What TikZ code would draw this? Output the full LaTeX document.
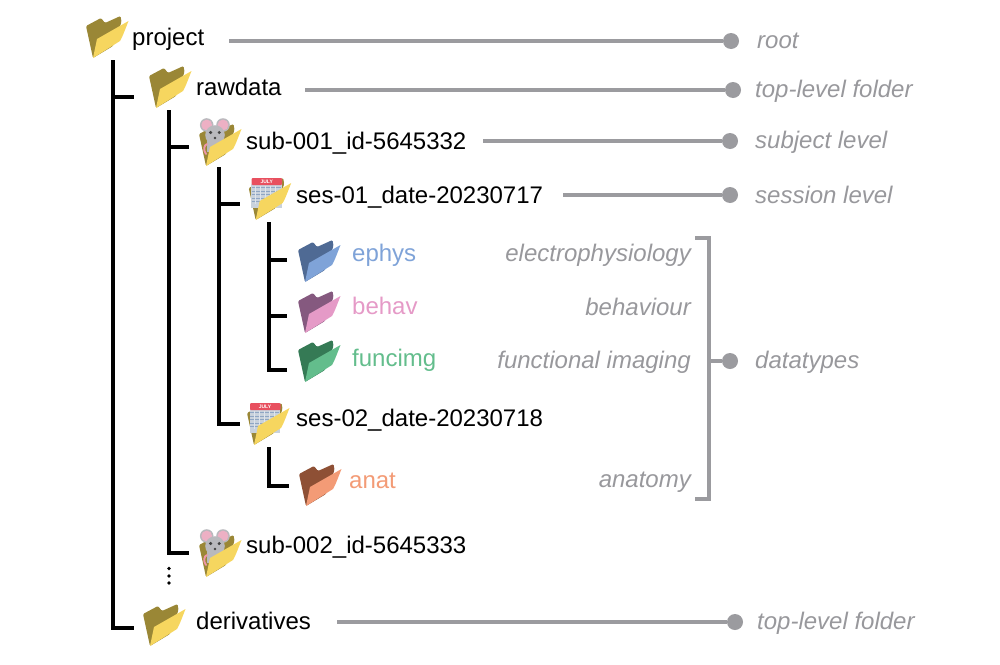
\documentclass[tikz,border=0pt]{standalone}
\usepackage{fontspec}
\setmainfont{Liberation Sans}
\definecolor{olv}{HTML}{9A8736}
\definecolor{yel}{HTML}{F6D65F}
\definecolor{bluD}{HTML}{4F6A94}
\definecolor{bluL}{HTML}{7FA3D8}
\definecolor{pnkD}{HTML}{85597F}
\definecolor{pnkL}{HTML}{E59AC7}
\definecolor{grnD}{HTML}{357A55}
\definecolor{grnL}{HTML}{63BD8C}
\definecolor{orgD}{HTML}{8E5035}
\definecolor{orgL}{HTML}{F39B76}
\definecolor{gry}{HTML}{9B9B9F}
\definecolor{glab}{HTML}{98989C}
\definecolor{mgray}{HTML}{B9B9BD}
\definecolor{mpink}{HTML}{EDB0C4}
\definecolor{calred}{HTML}{E8505F}
\definecolor{calbody}{HTML}{C9D2DC}
\definecolor{calgrid}{HTML}{8FA6C4}
\tikzset{
  x=1pt,y=-1pt,
  treeline/.style={draw=black,line width=3.6pt,line join=miter},
  guideline/.style={draw=gry,line width=3.8pt},
  guidedot/.style={circle,fill=gry,inner sep=0pt,minimum size=16pt},
  dirname/.style={anchor=base west,inner sep=0pt,font=\fontsize{24}{28}\selectfont},
  notel/.style={anchor=base west,inner sep=0pt,text=glab,font=\fontsize{24}{28}\selectfont\itshape},
  noter/.style={notel,anchor=base east},
  pics/fback/.style={code={
    \fill[#1,rounded corners=1.2pt] (0,0) -- (-7,-32) -- (8,-40) -- (12,-35) -- (27.5,-42) -- (28.5,-36) -- (20,-12) -- cycle;
  }},
  pics/ffront/.style={code={
    \fill[#1] (0,0) -- (4,-19) -- (35.5,-37) .. controls (32,-28) and (29,-20) .. (27,-17) -- cycle;
  }},
  pics/folder/.style 2 args={code={
    \pic {fback=#1}; \pic {ffront=#2};
  }},
  pics/mouse/.style={code={
    \pic {fback=olv};
    \fill[mgray] (0.7,-41) circle (6.8) (17,-41) circle (6.8);
    \fill[mpink] (0.7,-41) circle (5.4) (17,-41) circle (5.4);
    \fill[mgray] (9,-31) circle (9.8);
    \fill[mgray] (1,-28) rectangle (17,-14);
    \fill[black!75] (4.6,-33.5) circle (1.7) (13.2,-33.5) circle (1.7) (9,-28) circle (1.3);
    \draw[mpink!85!red,line width=1.9pt,line cap=round] (0,-12) .. controls (-3,-16) and (-2,-21) .. (1,-22);
    \pic {ffront=yel};
  }},
  pics/cal/.style={code={
    \pic {fback=olv};
    \fill[calbody] (-4.5,-36) rectangle (26,-12);
    \fill[calred,rounded corners=1pt] (-4,-42) rectangle (26.5,-35);
    \node[inner sep=0pt,text=white,font=\fontsize{5}{5}\selectfont\bfseries] at (11,-38.6) {JULY};
    \foreach \gy in {-32.5,-29,-25.5,-22,-18.5} \draw[calgrid,line width=.7pt] (-4,\gy) -- (25,\gy);
    \foreach \gx in {0,5,10,15,20} \draw[white!70!calgrid,line width=.5pt] (\gx,-34) -- (\gx,-16);
    \pic {ffront=yel};
  }}
}
\begin{document}
\begin{tikzpicture}
\useasboundingbox (0,0) rectangle (1000,664);
% folders
\pic at (93,58) {folder={olv}{yel}};
\pic at (156,108) {folder={olv}{yel}};
\pic at (206,166) {mouse};
\pic at (255.7,220) {cal};
\pic at (305,282) {folder={bluD}{bluL}};
\pic at (305,333) {folder={pnkD}{pnkL}};
\pic at (305,382) {folder={grnD}{grnL}};
\pic at (254,445) {cal};
\pic at (306,506) {folder={orgD}{orgL}};
\pic at (206,577) {mouse};
\pic at (150,646) {folder={olv}{yel}};
% names
\node[dirname] (project) at (132,45) {project};
\node[dirname] (rawdata) at (196,95) {rawdata};
\node[dirname] (sub1) at (246,149) {sub-001\_id-5645332};
\node[dirname] (ses1) at (296,203) {ses-01\_date-20230717};
\node[dirname,text=bluL] (ephys) at (352,261) {ephys};
\node[dirname,text=pnkL] (behav) at (352,314) {behav};
\node[dirname,text=grnL] (funcimg) at (352,366) {funcimg};
\node[dirname] (ses2) at (296,426) {ses-02\_date-20230718};
\node[dirname,text=orgL] (anat) at (349,488) {anat};
\node[dirname] (sub2) at (246,553) {sub-002\_id-5645333};
\node[dirname] (deriv) at (196,629) {derivatives};
% notes
\node[notel] (nroot) at (757,48) {root};
\node[notel] (ntop) at (755,97) {top-level folder};
\node[notel] (nsub) at (755,148) {subject level};
\node[notel] (nses) at (755,203) {session level};
\node[notel] (ndt) at (755,368) {datatypes};
\node[notel] (ntop2) at (757,629) {top-level folder};
\node[noter] (nephys) at (691,261) {electrophysiology};
\node[noter] (nbehav) at (691,315) {behaviour};
\node[noter] (nfunc) at (691,368) {functional imaging};
\node[noter] (nanat) at (691,487) {anatomy};
% tree
\coordinate (t1a) at (113,60); \coordinate (t1b) at (134,97); \coordinate (t1c) at (134,628);
\coordinate (t2a) at (169,110); \coordinate (t2b) at (189,147); \coordinate (t2c) at (189,553);
\coordinate (t3a) at (219,167); \coordinate (t3b) at (240,204); \coordinate (t3c) at (240,424);
\coordinate (t4a) at (269,222); \coordinate (t4b) at (287,260); \coordinate (t4c) at (287,316); \coordinate (t4d) at (287,370);
\coordinate (t5a) at (269,447); \coordinate (t5b) at (289,486);
\draw[treeline] (t1a) |- (t1c); \draw[treeline] (t1a |- t1b) -- (t1b);
\draw[treeline] (t2a) |- (t2c); \draw[treeline] (t2a |- t2b) -- (t2b);
\draw[treeline] (t3a) |- (t3c); \draw[treeline] (t3a |- t3b) -- (t3b);
\draw[treeline] (t4a) |- (t4d); \draw[treeline] (t4a |- t4b) -- (t4b); \draw[treeline] (t4a |- t4c) -- (t4c);
\draw[treeline] (t5a) |- (t5b);
\fill (169,568.5) circle (1.8) (169,576) circle (1.8) (169,583) circle (1.8);
% guides
\node[guidedot] (d1) at (731,41) {};
\node[guidedot] (d2) at (733,90) {};
\node[guidedot] (d3) at (730,141) {};
\node[guidedot] (d4) at (730,195) {};
\node[guidedot] (d5) at (730,361) {};
\node[guidedot] (d6) at (735,622) {};
\coordinate (g1) at (229,41); \coordinate (g2) at (305,90); \coordinate (g3) at (483,141);
\coordinate (g4) at (563,195); \coordinate (g6) at (337,622);
\draw[guideline] (g1) -- (d1); \draw[guideline] (g2) -- (d2); \draw[guideline] (g3) -- (d3);
\draw[guideline] (g4) -- (d4); \draw[guideline] (g6) -- (d6);
\coordinate (b1) at (695,238); \coordinate (b2) at (709,238); \coordinate (b3) at (709,499); \coordinate (b4) at (695,499);
\draw[guideline,line width=3.4pt] (b1) -- (b2) -- (b3) -- (b4);
\draw[guideline,line width=3.4pt] (b2 |- d5) -- (d5);
\end{tikzpicture}
\end{document}
